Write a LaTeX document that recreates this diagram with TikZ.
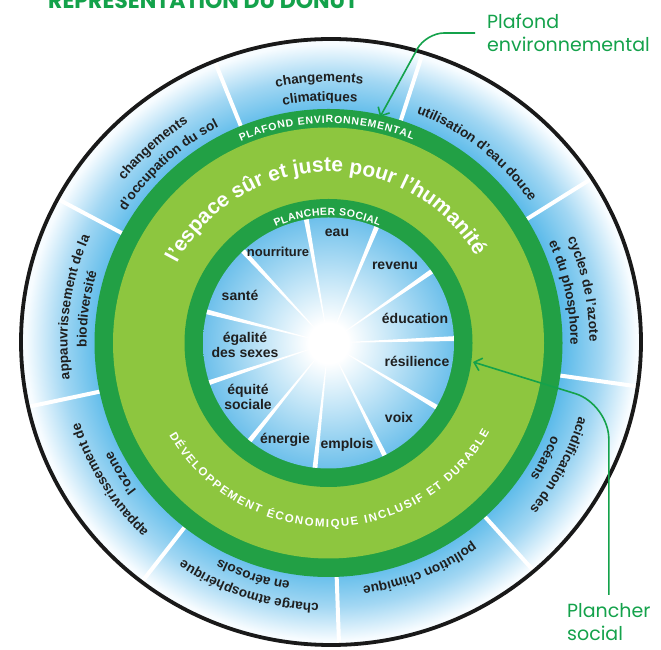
\documentclass[tikz,border=0pt]{standalone}
\usepackage{fontspec}
\setmainfont{Liberation Sans}
\newfontfamily\popfont{Poppins}
\usetikzlibrary{decorations.text,arrows.meta}
\definecolor{dkgreen}{HTML}{22A045}
\definecolor{ltgreen}{HTML}{8DC63F}
\definecolor{callgreen}{HTML}{14A24B}
\definecolor{ringblue}{HTML}{5DBBEA}
\definecolor{ringmid}{HTML}{A2D7F3}
\definecolor{ringout}{HTML}{F7FCFF}
\definecolor{diskblue}{HTML}{6EC0EB}
\definecolor{diskmid}{HTML}{C2E5F7}
\pgfdeclareradialshading{outerband}{\pgfpointorigin}{color(0bp)=(ringblue); color(18.8bp)=(ringblue); color(21.8bp)=(ringmid); color(24.6bp)=(ringout); color(50bp)=(ringout)}
\pgfdeclareradialshading{innerdisk}{\pgfpointorigin}{color(0bp)=(white); color(4bp)=(white); color(13bp)=(diskmid); color(25bp)=(diskblue); color(50bp)=(diskblue)}
\newcommand\olabfont{\bfseries\fontsize{13.5}{13.5}\selectfont}
\newcommand\capsfont{\bfseries\fontsize{10.5}{10.5}\selectfont}
\newcommand\bigcapsfont{\bfseries\fontsize{11.5}{11.5}\selectfont}
\newcommand\soclabfont{\bfseries\fontsize{14}{15}\selectfont}
\newcommand\dnRing[3]{\path[decorate,decoration={text along path,text align=center,text color=black!88,text={|\olabfont|#3}}] ([shift={(C)}]#1+20:#2) arc[start angle=#1+20,end angle=#1-20,radius=#2];}
\begin{document}
\begin{tikzpicture}[x=1pt,y=1pt,
  soc/.style={font=\soclabfont, align=center, inner sep=0pt, text=black!88},
  callout/.style={text=callgreen, align=left, font=\popfont\fontsize{19}{23}\selectfont},
  callarrow/.style={callgreen, line width=1.6pt, -{Straight Barb[length=7pt,width=13pt]}}]
\useasboundingbox (0,0) rectangle (661,650);
\fill[white] (0,0) rectangle (661,650);
\coordinate (C) at (328.5,307);
% outer band
\path[shading=outerband] (331,308) ellipse [x radius=310, y radius=303];
\foreach \a in {32,72,...,352} \draw[white, line width=4pt] (C) ++(\a:234) -- ++(\a:85);
% rings
\fill[dkgreen] (C) circle[radius=234];
\fill[ltgreen] (C) circle[radius=215.5];
\fill[dkgreen] (C) circle[radius=144];
\path[shading=innerdisk] (C) circle[radius=125.5];
\foreach \a in {0,...,10} \fill[white] (C) -- +({2+\a*360/11-1.1}:125.5) -- +({2+\a*360/11+1.1}:125.5) -- cycle;
\draw[line width=3.8pt, black!90] (331,308) ellipse [x radius=310, y radius=303];
% outer labels
\dnRing{92}{261}{changements}
\dnRing{92}{242}{climatiques}
\dnRing{132}{261}{changements}
\dnRing{132}{242}{d'occupation du sol}
\dnRing{172}{261}{appauvrissement de la}
\dnRing{172}{242}{biodiversité}
\dnRing{212}{261}{appauvrissement de}
\dnRing{212}{242}{l'ozone}
\dnRing{252}{261}{charge atmosphérique}
\dnRing{252}{242}{en aérosols}
\dnRing{292}{246}{pollution chimique}
\dnRing{332}{261}{acidification des}
\dnRing{332}{242}{océans}
\dnRing{12}{261}{cycles de l'azote}
\dnRing{12}{242}{et du phosphore}
\dnRing{52}{246}{utilisation d'eau douce}
% ring texts
\path[decorate,decoration={text along path,text align=fit to path,text color=white,text={|\capsfont|PLAFOND ENVIRONNEMENTAL}}] ([shift={(C)}]113.5:220) arc[start angle=113.5,end angle=67.5,radius=220];
\path[decorate,decoration={text along path,text align=fit to path,text color=white,text={|\capsfont|PLANCHER SOCIAL}}] ([shift={(C)}]114.5:127.5) arc[start angle=114.5,end angle=66.5,radius=127.5];
\path[decorate,decoration={text along path,text align=fit to path,text color=white,text={|\bigcapsfont|DÉVELOPPEMENT ÉCONOMIQUE INCLUSIF ET DURABLE}}] ([shift={(C)}]210:184) arc[start angle=210,end angle=331,radius=184];
\path[decorate,decoration={text along path,text align=center,text color=white,text={|\bfseries\fontsize{21}{21}\selectfont|l'espace sûr et juste pour l'humanité}}] ([shift={(C)}]161.5:171) arc[start angle=161.5,end angle=21.5,radius=171];
% social foundation labels
\node[soc] (eau) at (337,417) {eau};
\node[soc, font=\bfseries\fontsize{13}{14}\selectfont] (nourriture) at (278,398) {nourriture};
\node[soc] (revenu) at (395,384) {revenu};
\node[soc] (sante) at (240,355) {santé};
\node[soc] (education) at (415,332) {éducation};
\node[soc] (egalite) at (245,305) {égalité\\des sexes};
\node[soc] (resilience) at (417,289) {résilience};
\node[soc] (equite) at (248,253) {équité\\sociale};
\node[soc] (voix) at (399,232) {voix};
\node[soc] (energie) at (285,210) {énergie};
\node[soc] (emplois) at (347,205) {emplois};
% title
\node[font=\popfont\bfseries\fontsize{22}{22}\selectfont, text=callgreen, anchor=base west, inner sep=0pt] (title) at (48,641) {REPRÉSENTATION DU DONUT};
% callouts
\node[callout, anchor=west, inner xsep=12pt, inner ysep=0pt] (plafond) at (475,617) {Plafond\\environnemental};
\coordinate (pe) at (380,533);
\draw[callarrow, rounded corners=18pt] (plafond.west) -- (426,617) -- (pe);
\node[callout, anchor=north west, inner sep=0pt] (plancher) at (567,47) {Plancher\\social};
\coordinate (pcorner) at (613,246);
\coordinate (ps) at (473,288);
\draw[callarrow, rounded corners=35pt] ([yshift=8pt]plancher.north) -- (plancher.north |- pcorner) -- (ps);
\end{tikzpicture}
\end{document}
